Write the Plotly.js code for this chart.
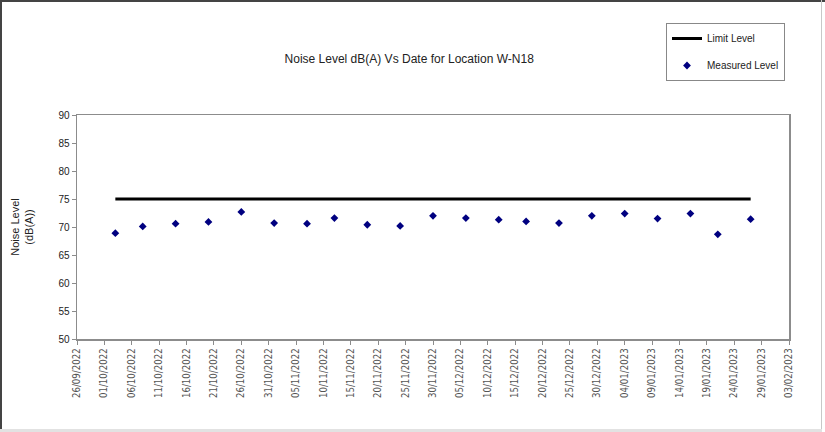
<!DOCTYPE html>
<html>
<head>
<meta charset="utf-8">
<script src="https://cdn.plot.ly/plotly-3.0.1.min.js"></script>
<style>
  html, body { margin: 0; padding: 0; background: #fff; }
  #wrap { position: relative; width: 825px; height: 432px; overflow: hidden; }
  #chart { width: 825px; height: 432px; }
  .edge { position: absolute; pointer-events: none; }
</style>
</head>
<body>
<div id="wrap">
  <div id="chart"></div>
  <div class="edge" style="left:0;top:0;width:2px;height:432px;background:#444;"></div>
  <div class="edge" style="left:0;top:0;width:825px;height:2px;background:#444;"></div>
  <div class="edge" style="left:821px;top:0;width:1px;height:430px;background:#c8c8c8;"></div>
  <div class="edge" style="left:0;top:429px;width:822px;height:3px;background:#e2e2e2;"></div>
</div>
<script>
// Measured noise levels, dB(A)
const measuredDates = [
  '2022-10-03', '2022-10-08', '2022-10-14', '2022-10-20', '2022-10-26',
  '2022-11-01', '2022-11-07', '2022-11-12', '2022-11-18', '2022-11-24',
  '2022-11-30', '2022-12-06', '2022-12-12', '2022-12-17', '2022-12-23',
  '2022-12-29', '2023-01-04', '2023-01-10', '2023-01-16', '2023-01-21',
  '2023-01-27'
];
const measuredValues = [
  68.9, 70.1, 70.6, 70.9, 72.7,
  70.7, 70.6, 71.6, 70.4, 70.2,
  72.0, 71.6, 71.3, 71.0, 70.7,
  72.0, 72.4, 71.5, 72.4, 68.7,
  71.4
];

// Limit level
const limitDates = ['2022-10-03', '2023-01-27'];
const limitValues = [75, 75];

// X-axis ticks (every 5 days)
const tickDates = [
  '2022-09-26', '2022-10-01', '2022-10-06', '2022-10-11', '2022-10-16',
  '2022-10-21', '2022-10-26', '2022-10-31', '2022-11-05', '2022-11-10',
  '2022-11-15', '2022-11-20', '2022-11-25', '2022-11-30', '2022-12-05',
  '2022-12-10', '2022-12-15', '2022-12-20', '2022-12-25', '2022-12-30',
  '2023-01-04', '2023-01-09', '2023-01-14', '2023-01-19', '2023-01-24',
  '2023-01-29', '2023-02-03'
];
const tickLabels = [
  '26/09/2022', '01/10/2022', '06/10/2022', '11/10/2022', '16/10/2022',
  '21/10/2022', '26/10/2022', '31/10/2022', '05/11/2022', '10/11/2022',
  '15/11/2022', '20/11/2022', '25/11/2022', '30/11/2022', '05/12/2022',
  '10/12/2022', '15/12/2022', '20/12/2022', '25/12/2022', '30/12/2022',
  '04/01/2023', '09/01/2023', '14/01/2023', '19/01/2023', '24/01/2023',
  '29/01/2023', '03/02/2023'
];

const traces = [
  {
    type: 'scatter', mode: 'lines', name: 'Limit Level',
    x: limitDates, y: limitValues,
    line: { color: '#000000', width: 3 },
    legendgroup: 'a'
  },
  {
    type: 'scatter', mode: 'markers', name: 'Measured Level',
    x: measuredDates, y: measuredValues,
    marker: { symbol: 'diamond', color: '#000080', size: 6 },
    legendgroup: 'b'
  }
];

const axisColor = '#8c8c8c';
const layout = {
  width: 825, height: 432,
  margin: { l: 77, r: 36, t: 115, b: 93, autoexpand: false },
  paper_bgcolor: '#ffffff', plot_bgcolor: '#ffffff',
  font: { family: 'Arial, "Liberation Sans", sans-serif', color: '#222' },
  title: {
    text: 'Noise Level dB(A) Vs Date for Location W-N18',
    font: { size: 12, color: '#222' },
    x: 0.496, xanchor: 'center', y: 1 - 59 / 432, yanchor: 'middle'
  },
  showlegend: true,
  legend: {
    x: 666 / 825, y: 1 - 23 / 432, xref: 'container', yref: 'container',
    xanchor: 'left', yanchor: 'top',
    bordercolor: '#888', borderwidth: 1, bgcolor: '#fff',
    font: { size: 10, color: '#222' },
    traceorder: 'grouped', tracegroupgap: 8, itemwidth: 30
  },
  xaxis: {
    type: 'date',
    range: ['2022-09-26', '2023-02-03'],
    tickmode: 'array', tickvals: tickDates, ticktext: tickLabels,
    tickangle: -90,
    tickfont: { family: '"DejaVu Sans Condensed", sans-serif', size: 9.6, color: '#555' },
    ticks: 'outside', ticklen: 4, tickcolor: axisColor,
    showline: true, linecolor: axisColor, linewidth: 1.5, mirror: true,
    showgrid: false, zeroline: false
  },
  yaxis: {
    range: [50, 90], dtick: 5, tick0: 50,
    tickfont: { size: 10, color: '#222' },
    ticks: 'outside', ticklen: 4, tickcolor: axisColor,
    showline: true, linecolor: axisColor, linewidth: 1.5, mirror: true,
    showgrid: false, zeroline: false,
    title: { text: 'Noise Level<br>(dB(A))', font: { size: 11, color: '#222' }, standoff: 22 }
  }
};

Plotly.newPlot('chart', traces, layout, { displayModeBar: false, staticPlot: true });
</script>
</body>
</html>
